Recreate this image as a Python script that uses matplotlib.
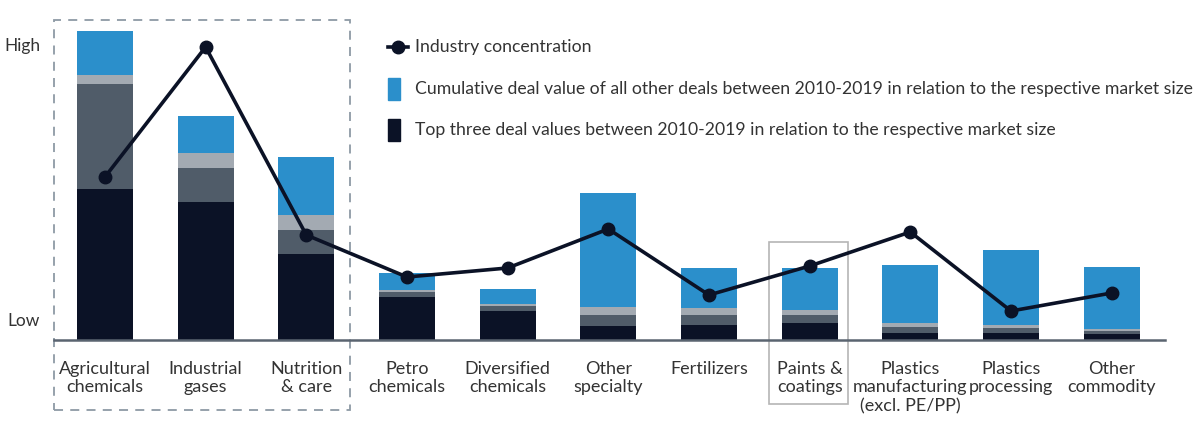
import matplotlib
matplotlib.use("Agg")
import matplotlib.pyplot as plt
from matplotlib.patches import Rectangle
from matplotlib.lines import Line2D
import numpy as np

plt.rcParams["font.family"] = ["Lato", "DejaVu Sans"]

categories = ["Agricultural\nchemicals", "Industrial\ngases", "Nutrition\n& care",
              "Petro\nchemicals", "Diversified\nchemicals", "Other\nspecialty",
              "Fertilizers", "Paints &\ncoatings", "Plastics\nmanufacturing\n(excl. PE/PP)",
              "Plastics\nprocessing", "Other\ncommodity"]
top_deal_1 = [151, 138, 86, 43, 29, 14, 15, 17, 7, 7, 6]
top_deal_2 = [105, 34, 24, 5, 5, 11, 10, 8, 6, 5, 3]
top_deal_3 = [9, 15, 15, 2, 2, 8, 7, 5, 4, 3, 2.5]
other_deals = [44, 37, 58, 17, 15, 114, 40, 42, 58, 75, 62]
concentration = [163, 293, 105, 63, 72, 111, 45, 74, 108, 29, 47]
y_tick_values = [20, 295]
y_tick_labels = ["Low", "High"]
legend_labels = ["Industry concentration",
                 "Cumulative deal value of all other deals between 2010-2019 in relation to the respective market size",
                 "Top three deal values between 2010-2019 in relation to the respective market size"]

navy = "#0b1226"
slate = "#505c69"
lgray = "#a3aab2"
blue = "#2b8fcb"
text_c = "#333333"

W, H = 1200, 429
fig = plt.figure(figsize=(12, 4.29), dpi=100)
ax = fig.add_axes([54 / W, (H - 340) / H, (1165 - 54) / W, (340 - 20) / H])

x = np.arange(len(categories))
bw = 0.556
b1 = np.array(top_deal_1, float)
b2 = np.array(top_deal_2, float)
b3 = np.array(top_deal_3, float)
b4 = np.array(other_deals, float)
ax.bar(x, b1, bw, color=navy, zorder=2)
ax.bar(x, b2, bw, bottom=b1, color=slate, zorder=2)
ax.bar(x, b3, bw, bottom=b1 + b2, color=lgray, zorder=2)
ax.bar(x, b4, bw, bottom=b1 + b2 + b3, color=blue, zorder=2)
ax.plot(x, concentration, color=navy, lw=2.6, marker="o", ms=9, zorder=3)

ax.set_xlim(-0.506, 10.53)
ax.set_ylim(0, 320)
for s in ["top", "right", "left"]:
    ax.spines[s].set_visible(False)
ax.spines["bottom"].set_color("#5a6470")
ax.spines["bottom"].set_linewidth(1.8)
ax.set_xticks(x)
ax.set_xticklabels(categories, fontsize=13, color=text_c, linespacing=1.2, va="top")
ax.tick_params(axis="x", length=0, pad=15)
ax.set_yticks(y_tick_values)
ax.set_yticklabels(y_tick_labels, fontsize=12.5, color=text_c)
ax.tick_params(axis="y", length=0, pad=10)

# dashed box around first group
ax.add_patch(Rectangle((-0.506, -70), 2.43 + 0.506, 390, fill=False, ls=(0, (5, 4)),
                       ec="#8e9aa5", lw=1.3, clip_on=False, zorder=1))
# box around paints & coatings
ax.add_patch(Rectangle((6.60, -64), 0.78, 162, fill=False, ec="#b5b5b5", lw=1.2,
                       clip_on=False, zorder=1))

# legend
def fx(px):
    return px / W

def fy(py):
    return 1 - py / H

fig.add_artist(Line2D([fx(388), fx(408)], [fy(47), fy(47)], color=navy, lw=2.6,
                      transform=fig.transFigure))
fig.add_artist(Line2D([fx(398)], [fy(47)], color=navy, marker="o", ms=9,
                      transform=fig.transFigure))
fig.add_artist(Rectangle((fx(388), fy(100)), 12 / W, 22 / H, color=blue,
                         transform=fig.transFigure))
fig.add_artist(Rectangle((fx(388), fy(141)), 12 / W, 22 / H, color=navy,
                         transform=fig.transFigure))
for lbl, py in zip(legend_labels, [47, 89, 130]):
    fig.text(fx(415), fy(py), lbl, fontsize=12.7, color=text_c, va="center", ha="left")

fig.savefig("out.png", dpi=100)
